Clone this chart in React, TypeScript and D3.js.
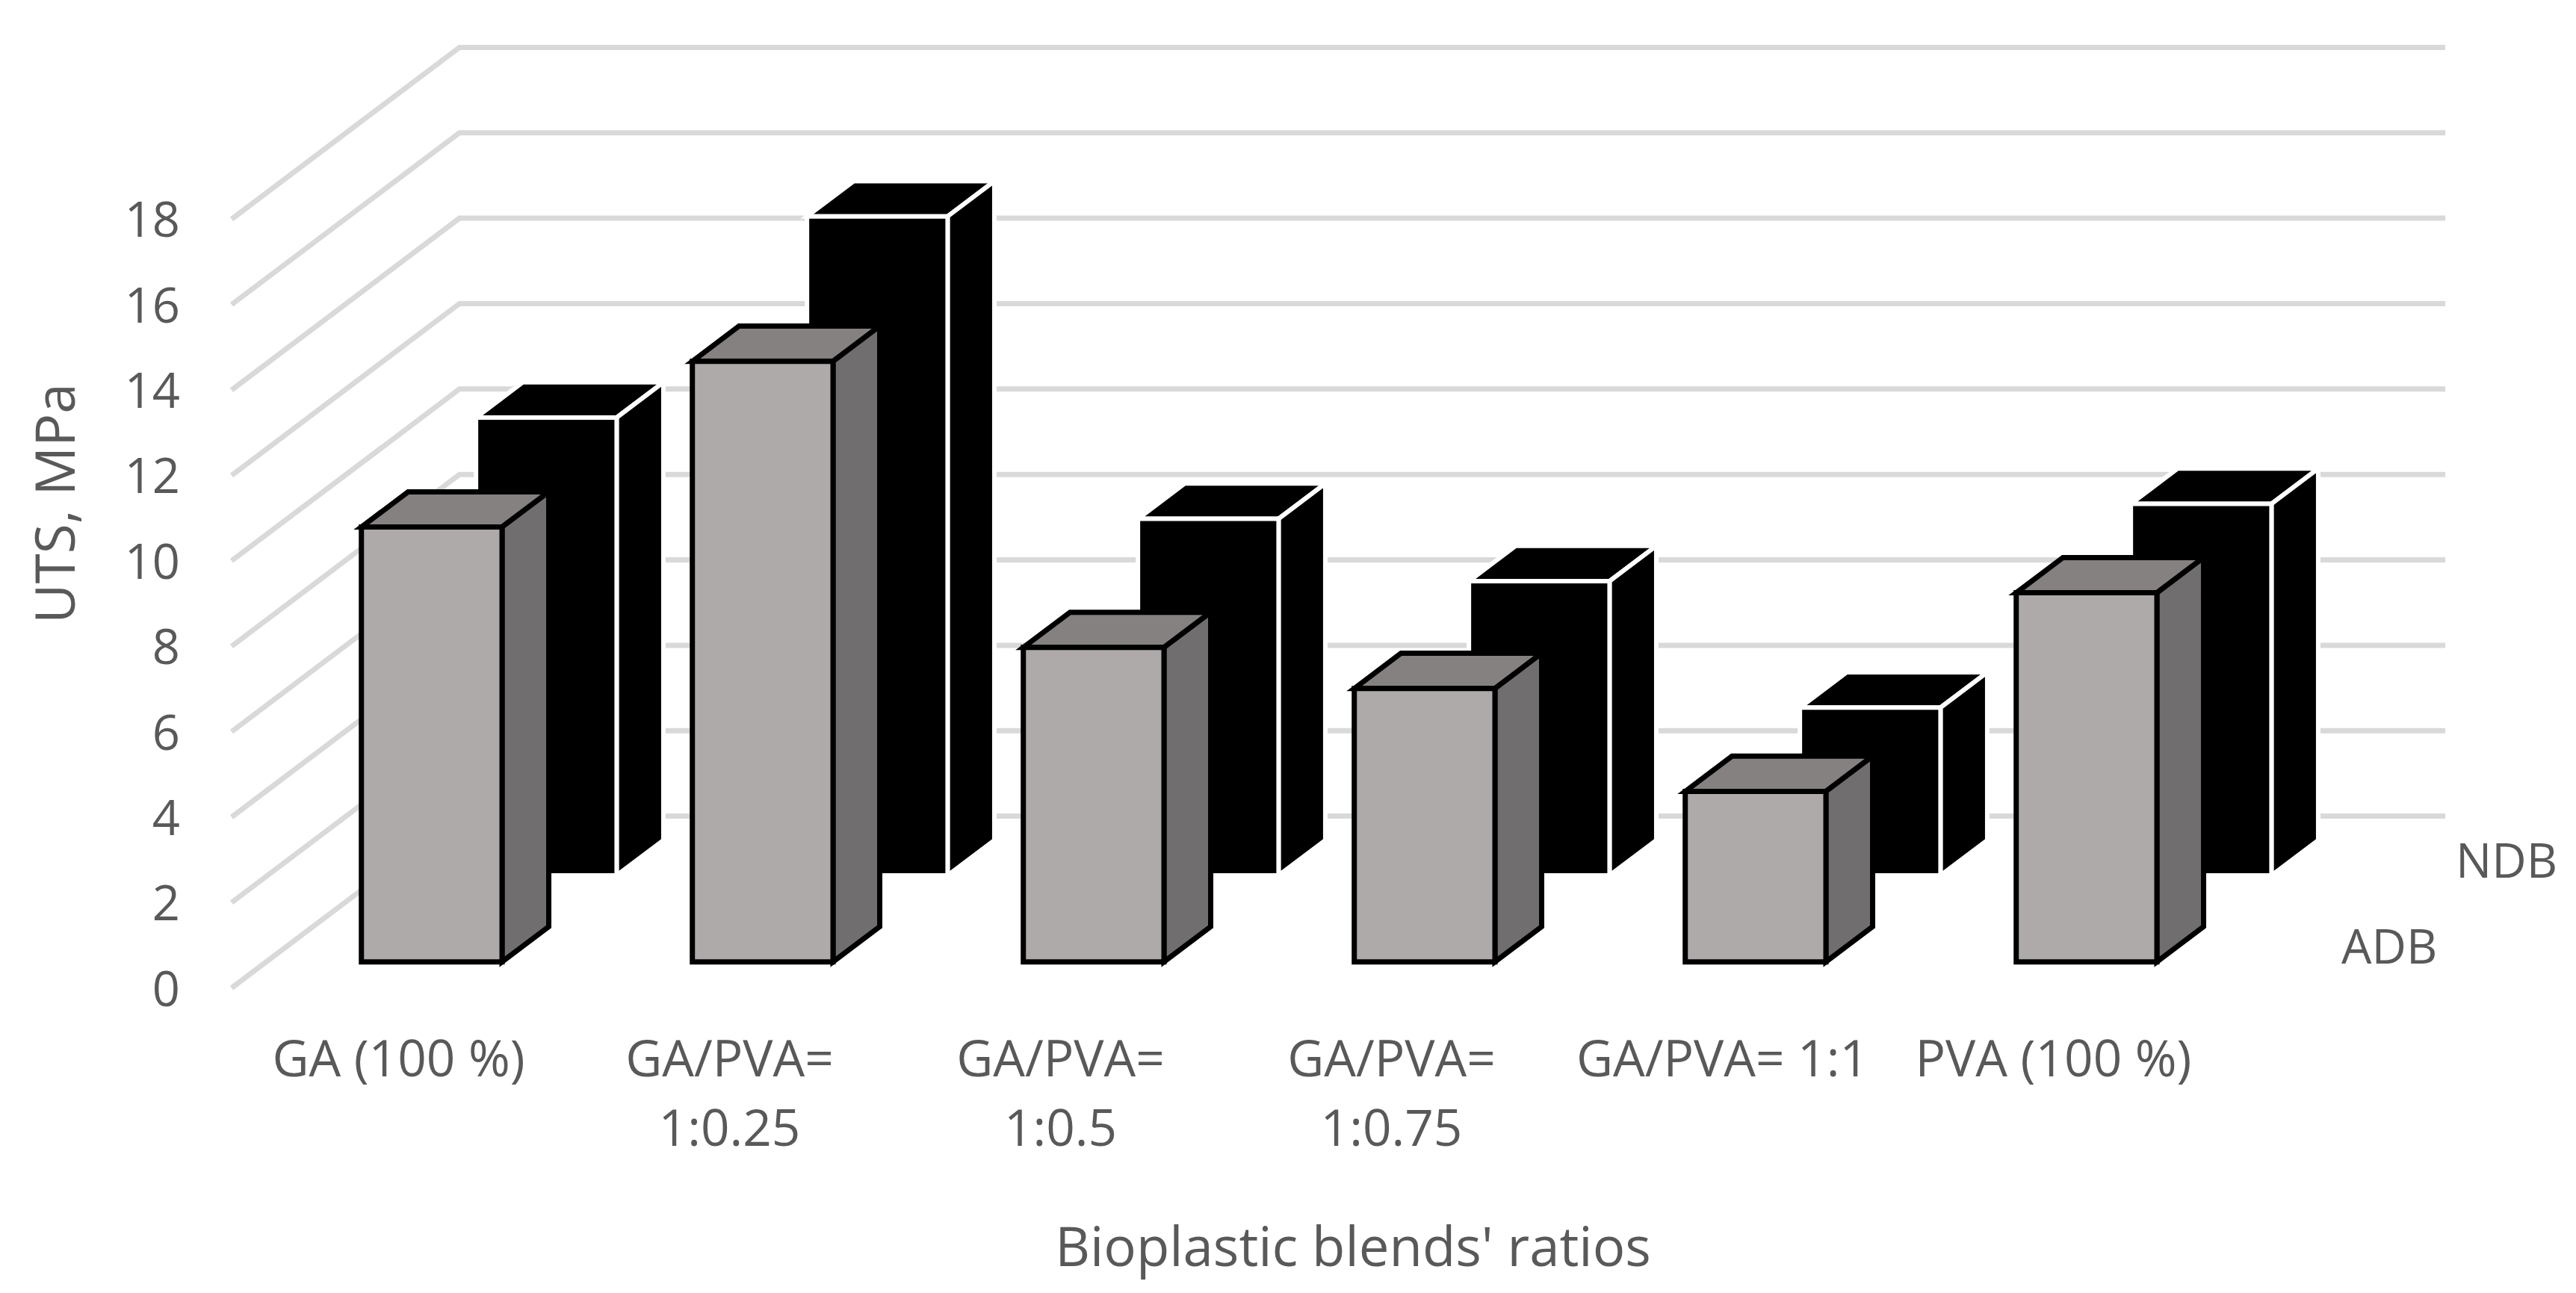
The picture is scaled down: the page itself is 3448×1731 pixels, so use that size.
import React from "react";
import * as d3 from "d3";

const categories = ["GA (100 %)", "GA/PVA=\n1:0.25", "GA/PVA=\n1:0.5", "GA/PVA=\n1:0.75", "GA/PVA= 1:1", "PVA (100 %)"];
const seriesNames = ["ADB", "NDB"];
const adbValues = [10.18, 14.06, 7.36, 6.4, 3.99, 8.64];
const ndbValues = [10.72, 15.43, 8.35, 6.89, 3.93, 8.7];
const yTicks = [0, 2, 4, 6, 8, 10, 12, 14, 16, 18];

const W = 3448, H = 1731;
const FONT = "'Open Sans', sans-serif";
const TXT = "#595959";
const DX = 305, DY = 230;

const x = d3.scaleBand<number>().domain(d3.range(categories.length)).range([310, 2968]);
const y = d3.scaleLinear().domain([0, 18]).range([1322.6, 293.4]);
const z = d3.scaleLinear().domain([0, 1]).range([0.152, 0.655]);
const zDepth = 0.205;
const barFrac = 0.425;

type P = [number, number];
const proj = (px: number, v: number, d: number): P => [px + DX * d, y(v) - DY * d];
const line = d3.line<P>();
const closed = (pts: P[]) => line(pts)! + "Z";

function Bar({ i, s, v }: { i: number; s: number; v: number }) {
  const w = x.bandwidth() * barFrac;
  const x0 = x(i)! + (x.bandwidth() - w) / 2;
  const x1 = x0 + w;
  const d0 = z(s), d1 = d0 + zDepth;
  const dark = s === 1;
  const stroke = dark ? "#ffffff" : "#000000";
  const sw = dark ? 6 : 7;
  const common = { stroke, strokeWidth: sw, strokeLinejoin: "miter" as const };
  return (
    <g>
      <path d={closed([proj(x0, v, d0), proj(x0, v, d1), proj(x1, v, d1), proj(x1, v, d0)])} fill={dark ? "#000000" : "#858180"} {...common} />
      <path d={closed([proj(x1, 0, d0), proj(x1, 0, d1), proj(x1, v, d1), proj(x1, v, d0)])} fill={dark ? "#000000" : "#706e6e"} {...common} />
      <path d={closed([proj(x0, 0, d0), proj(x1, 0, d0), proj(x1, v, d0), proj(x0, v, d0)])} fill={dark ? "#000000" : "#aeaaa9"} {...common} />
    </g>
  );
}

export default function App() {
  const [xMin, xMax] = x.range();
  return (
    <svg width={W} height={H} viewBox={`0 0 ${W} ${H}`} style={{ position: "absolute", left: 0, top: 0, background: "#fff" }}>
      {yTicks.map((t) => (
        <path key={t} d={line([proj(xMin, t, 0), proj(xMin, t, 1), proj(xMax, t, 1)])!} fill="none" stroke="#d9d9d9" strokeWidth={7} />
      ))}
      {yTicks.map((t) => (
        <text key={t} x={241} y={y(t) + 24} textAnchor="end" fontFamily={FONT} fontSize={65} fill={TXT}>{t}</text>
      ))}
      {ndbValues.map((v, i) => <Bar key={i} i={i} s={1} v={v} />)}
      {adbValues.map((v, i) => <Bar key={i} i={i} s={0} v={v} />)}
      {categories.map((c, i) => (
        <text key={c} textAnchor="middle" fontFamily={FONT} fontSize={67.5} fill={TXT}>
          {c.split("\n").map((l, j) => (
            <tspan key={j} x={x(i)! + x.bandwidth() / 2 + 2} y={1441 + j * 93}>{l}</tspan>
          ))}
        </text>
      ))}
      <text x={3287} y={1175} fontFamily={FONT} fontSize={64} fill={TXT}>{seriesNames[1]}</text>
      <text x={3134} y={1290} fontFamily={FONT} fontSize={64} fill={TXT}>{seriesNames[0]}</text>
      <text transform="translate(100,674) rotate(-90)" textAnchor="middle" fontFamily={FONT} fontSize={73} fill={TXT}>UTS, MPa</text>
      <text x={1811} y={1695} textAnchor="middle" fontFamily={FONT} fontSize={72.5} fill={TXT}>Bioplastic blends' ratios</text>
    </svg>
  );
}
